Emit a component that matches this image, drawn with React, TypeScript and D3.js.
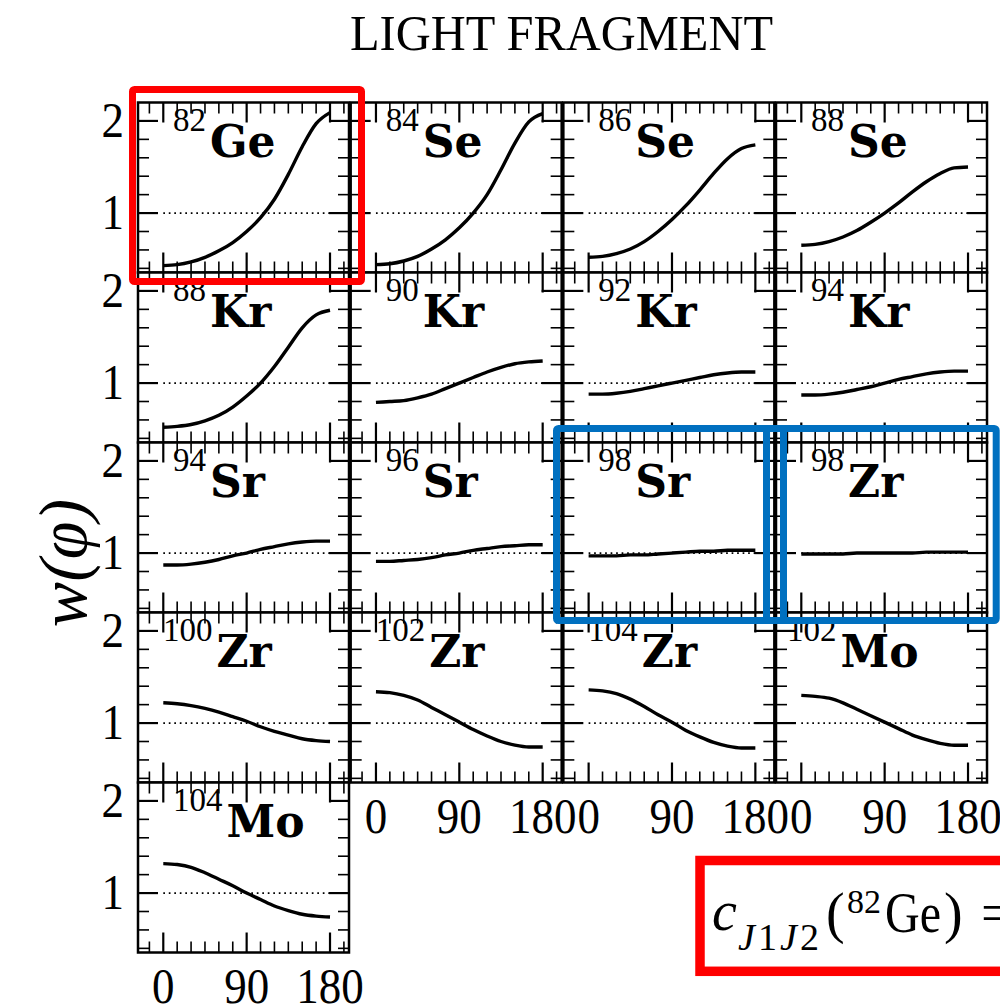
import React from "react";
import * as d3 from "d3";

// ---------- data ----------
const angles = [0, 15, 30, 45, 60, 75, 90, 105, 120, 135, 150, 165, 180];
const massNumbers = ["82", "84", "86", "88", "88", "90", "92", "94", "94", "96", "98", "98", "100", "102", "104", "102", "104"];
const elements = ["Ge", "Se", "Se", "Se", "Kr", "Kr", "Kr", "Kr", "Sr", "Sr", "Sr", "Zr", "Zr", "Zr", "Zr", "Mo", "Mo"];
const wValues = [
  [0.43, 0.44, 0.47, 0.52, 0.59, 0.68, 0.8, 0.95, 1.15, 1.42, 1.72, 1.97, 2.09],
  [0.44, 0.45, 0.48, 0.53, 0.61, 0.71, 0.84, 1.0, 1.2, 1.47, 1.76, 1.99, 2.08],
  [0.52, 0.53, 0.56, 0.61, 0.69, 0.8, 0.93, 1.08, 1.25, 1.43, 1.59, 1.7, 1.74],
  [0.65, 0.66, 0.69, 0.74, 0.81, 0.9, 1.0, 1.11, 1.23, 1.34, 1.43, 1.49, 1.5],
  [0.52, 0.53, 0.55, 0.59, 0.65, 0.74, 0.86, 1.0, 1.18, 1.39, 1.6, 1.74, 1.79],
  [0.79, 0.8, 0.81, 0.84, 0.88, 0.94, 1.0, 1.06, 1.12, 1.17, 1.21, 1.23, 1.24],
  [0.88, 0.88, 0.89, 0.91, 0.94, 0.97, 1.0, 1.03, 1.06, 1.09, 1.11, 1.12, 1.12],
  [0.87, 0.87, 0.88, 0.9, 0.93, 0.96, 1.0, 1.04, 1.07, 1.1, 1.12, 1.13, 1.13],
  [0.87, 0.87, 0.88, 0.9, 0.93, 0.97, 1.0, 1.04, 1.07, 1.1, 1.12, 1.13, 1.13],
  [0.91, 0.91, 0.92, 0.93, 0.95, 0.98, 1.0, 1.03, 1.05, 1.07, 1.08, 1.09, 1.09],
  [0.97, 0.97, 0.97, 0.98, 0.98, 0.99, 1.0, 1.01, 1.02, 1.02, 1.03, 1.03, 1.03],
  [0.99, 0.99, 0.99, 0.99, 1.0, 1.0, 1.0, 1.0, 1.0, 1.01, 1.01, 1.01, 1.01],
  [1.22, 1.21, 1.19, 1.16, 1.12, 1.07, 1.02, 0.96, 0.91, 0.87, 0.83, 0.81, 0.8],
  [1.34, 1.33, 1.3, 1.25, 1.17, 1.09, 1.01, 0.93, 0.86, 0.8, 0.76, 0.74, 0.74],
  [1.36, 1.35, 1.32, 1.26, 1.18, 1.09, 1.01, 0.92, 0.85, 0.79, 0.75, 0.73, 0.73],
  [1.3, 1.29, 1.27, 1.22, 1.15, 1.08, 1.01, 0.94, 0.87, 0.82, 0.78, 0.76, 0.76],
  [1.32, 1.31, 1.28, 1.22, 1.15, 1.08, 1.0, 0.93, 0.86, 0.81, 0.77, 0.75, 0.74],
];
const xMajorTicks = [0, 90, 180];
const xMinorTicks = [-15, 15, 30, 45, 60, 75, 105, 120, 135, 150, 165, 195];
const yMajorTicks = [1, 2];
const yMinorTicks = [0.4, 0.6, 0.8, 1.2, 1.4, 1.6, 1.8];
const xTickLabels = ["0", "90", "180"];
const yTickLabels = ["1", "2"];
const titleText = "LIGHT FRAGMENT";

// ---------- layout ----------
const W = 1000;
const H = 1008;
const NCOLS = 4;
const panelW = 211;
const panelH = 170;
const left0 = 138;
const top0 = 102.5;
const colPitch = 212.67;
const rowPitch = 170;
const labelDx = [35, 35, 35, 35, 35, 35, 35, 35, 35, 35, 35, 35, 25, 25, 25, 11, 35];

const x = d3.scaleLinear().domain([-27.3, 200.5]).range([0, panelW]);
const y = d3.scaleLinear().domain([0.355, 2.2]).range([panelH, 0]);
const line = d3
  .line<[number, number]>()
  .x((d) => x(d[0]))
  .y((d) => y(d[1]))
  .curve(d3.curveMonotoneX);

const tickFont = "'Liberation Serif', serif";
const MAJ = 20;
const MIN = 11;
const SUP = 33;

function Panel({ i }: { i: number }) {
  const col = i % NCOLS;
  const row = Math.floor(i / NCOLS);
  const px = left0 + col * colPitch;
  const py = top0 + row * rowPitch;
  const isBottom = i + NCOLS >= massNumbers.length;
  const isLeft = col === 0;
  const pts = angles.map((a, k) => [a, wValues[i][k]] as [number, number]);
  return (
    <g transform={`translate(${px},${py})`}>
      <rect x={0} y={0} width={panelW} height={panelH} fill="white" stroke="none" />
      <line x1={x(0)} x2={x(180)} y1={y(1)} y2={y(1)} stroke="#000" strokeWidth={1.7} strokeDasharray="1.7 3.8" />
      {xMinorTicks.map((t) => (
        <g key={"xm" + t}>
          <line x1={x(t)} x2={x(t)} y1={panelH} y2={panelH - MIN} stroke="#000" strokeWidth={1.6} />
          <line x1={x(t)} x2={x(t)} y1={0} y2={MIN} stroke="#000" strokeWidth={1.6} />
        </g>
      ))}
      {xMajorTicks.map((t) => (
        <g key={"xM" + t}>
          <line x1={x(t)} x2={x(t)} y1={panelH} y2={panelH - MAJ} stroke="#000" strokeWidth={2.2} />
          <line x1={x(t)} x2={x(t)} y1={0} y2={MAJ} stroke="#000" strokeWidth={2.2} />
        </g>
      ))}
      {yMinorTicks.map((t) => (
        <g key={"ym" + t}>
          <line x1={0} x2={MIN} y1={y(t)} y2={y(t)} stroke="#000" strokeWidth={1.6} />
          <line x1={panelW} x2={panelW - MIN} y1={y(t)} y2={y(t)} stroke="#000" strokeWidth={1.6} />
        </g>
      ))}
      {yMajorTicks.map((t) => (
        <g key={"yM" + t}>
          <line x1={0} x2={MAJ} y1={y(t)} y2={y(t)} stroke="#000" strokeWidth={2.2} />
          <line x1={panelW} x2={panelW - MAJ} y1={y(t)} y2={y(t)} stroke="#000" strokeWidth={2.2} />
        </g>
      ))}
      <rect x={0} y={0} width={panelW} height={panelH} fill="none" stroke="#000" strokeWidth={2.5} />
      <path d={line(pts) || ""} fill="none" stroke="#000" strokeWidth={3.4} strokeLinecap="butt" />
      <text x={labelDx[i]} y={28} fontFamily={tickFont} fontSize={SUP} fill="#000">
        {massNumbers[i]}
      </text>
      <text
        x={labelDx[i] + massNumbers[i].length * SUP * 0.5 + 4}
        y={54}
        fontFamily="'DejaVu Serif', serif"
        fontWeight="bold"
        fontSize={44}
        fill="#000"
      >
        {elements[i]}
      </text>
      {isBottom &&
        xMajorTicks.map((t, k) => (
          <text
            key={"xl" + t}
            transform={`translate(${x(t)},${panelH + 50}) scale(1,1.12)`}
            textAnchor="middle"
            fontFamily={tickFont}
            fontSize={45}
            fill="#000"
          >
            {xTickLabels[k]}
          </text>
        ))}
      {isLeft &&
        yMajorTicks.map((t, k) => (
          <text
            key={"yl" + t}
            transform={`translate(-14,${y(t) + 16}) scale(1,1.12)`}
            textAnchor="end"
            fontFamily={tickFont}
            fontSize={45}
            fill="#000"
          >
            {yTickLabels[k]}
          </text>
        ))}
    </g>
  );
}

export default function App() {
  return (
    <svg
      width={W}
      height={H}
      viewBox={`0 0 ${W} ${H}`}
      style={{ position: "absolute", left: 0, top: 0, background: "#fff" }}
    >
      <rect x={0} y={0} width={W} height={H} fill="#fff" />
      <text
        x={561.5}
        y={50}
        textAnchor="middle"
        fontFamily={tickFont}
        fontSize={50}
        textLength={423}
        lengthAdjust="spacingAndGlyphs"
        fill="#000"
      >
        {titleText}
      </text>
      <text
        transform="translate(86,563) rotate(-90)"
        textAnchor="middle"
        fontFamily={tickFont}
        fontStyle="italic"
        fontSize={68}
        fill="#000"
      >
        w(φ)
      </text>
      {massNumbers.map((_, i) => (
        <Panel key={i} i={i} />
      ))}
      <rect x={132.5} y={89.5} width={229} height={192} rx={2} fill="none" stroke="#ff0000" strokeWidth={7} />
      <rect x={556.5} y={428.5} width={227} height={192} rx={2} fill="none" stroke="#0070c0" strokeWidth={7} />
      <rect x={766.5} y={428.5} width={229.7} height={192} rx={2} fill="none" stroke="#0070c0" strokeWidth={7} />
      <rect x={700} y={860.5} width={340} height={110.8} fill="none" stroke="#ff0000" strokeWidth={9.5} />
      <g fontFamily={tickFont} fill="#000">
        <text x={712} y={930} fontSize={56} fontStyle="italic">c</text>
        <text y={950} fontSize={38}>
          <tspan x={738} fontStyle="italic">J</tspan>
          <tspan x={758}>1</tspan>
          <tspan x={780} fontStyle="italic">J</tspan>
          <tspan x={800}>2</tspan>
        </text>
        <text x={826} y={932} fontSize={56}>(</text>
        <text x={847} y={913} fontSize={34}>82</text>
        <text x={885} y={932} fontSize={56} textLength={56} lengthAdjust="spacingAndGlyphs">Ge</text>
        <text x={944} y={932} fontSize={56}>)</text>
        <text x={981} y={932} fontSize={56}>=</text>
      </g>
    </svg>
  );
}
